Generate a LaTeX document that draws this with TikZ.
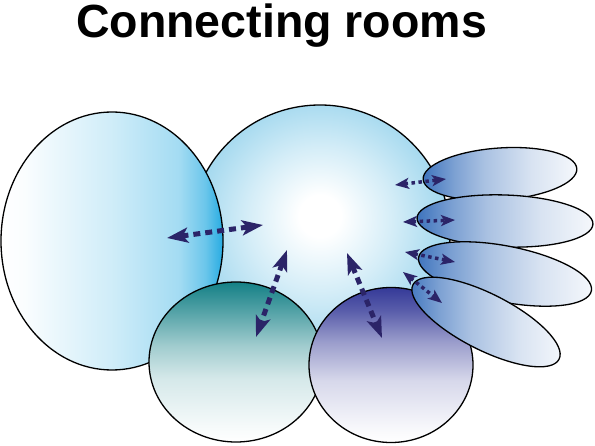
\documentclass[tikz,border=0pt]{standalone}
\usepackage{fontspec}
\setmainfont{Liberation Sans}
\usetikzlibrary{shapes.geometric,arrows.meta}
\definecolor{arrowc}{HTML}{2B2468}
\definecolor{cyanR}{HTML}{1BA7E0}
\definecolor{hubE}{HTML}{A0D7EE}
\definecolor{tealT}{HTML}{148086}
\definecolor{indT}{HTML}{353A98}
\definecolor{wingL}{HTML}{3D73BD}
\pgfdeclarehorizontalshading{westshade}{100bp}{color(0bp)=(white); color(25bp)=(white); color(30bp)=(cyanR!2); color(50bp)=(cyanR!21); color(65bp)=(cyanR!40); color(71bp)=(cyanR!65); color(75bp)=(cyanR!95); color(100bp)=(cyanR!95)}
\pgfdeclareverticalshading{tealshade}{100bp}{color(0bp)=(white); color(25bp)=(white); color(30bp)=(tealT!4); color(45bp)=(tealT!18); color(55bp)=(tealT!40); color(67.5bp)=(tealT!78); color(75bp)=(tealT); color(100bp)=(tealT)}
\pgfdeclareverticalshading{indshade}{100bp}{color(0bp)=(white); color(25bp)=(white); color(30bp)=(indT!4); color(45bp)=(indT!20); color(57.5bp)=(indT!50); color(67.5bp)=(indT!82); color(75bp)=(indT); color(100bp)=(indT)}
\pgfdeclarehorizontalshading{wingshade}{100bp}{color(0bp)=(wingL); color(25bp)=(wingL); color(35bp)=(wingL!68); color(45bp)=(wingL!44); color(60bp)=(wingL!20); color(75bp)=(wingL!5); color(100bp)=(wingL!5)}
\pgfdeclareradialshading{hubshade}{\pgfpoint{0bp}{4bp}}{color(0bp)=(white); color(4bp)=(white); color(14bp)=(hubE!45); color(25bp)=(hubE); color(50bp)=(hubE)}
\tikzset{
  room/.style={ellipse, draw=black, line width=1.3pt, inner sep=0pt, outer sep=0pt},
  wing/.style={room, shading=wingshade},
  biglink/.style={line width=5pt, draw=arrowc, dash pattern=on 7pt off 5pt,
    {Stealth[length=21pt,width=15pt,inset=5pt]}-{Stealth[length=21pt,width=15pt,inset=5pt]}},
  smalllink/.style={line width=3.5pt, draw=arrowc, dash pattern=on 3.5pt off 3.5pt,
    {Stealth[length=14pt,width=11pt,inset=3.5pt]}-{Stealth[length=14pt,width=11pt,inset=3.5pt]}}
}
\begin{document}
\begin{tikzpicture}[x=1pt,y=-1pt]
\useasboundingbox (0,0) rectangle (595,446);
\node[anchor=base, font=\bfseries\fontsize{46.5}{50}\selectfont] (title) at (281.5,38) {Connecting rooms};
% rooms
\node[room, minimum width=260pt, minimum height=260pt, shading=hubshade] (hub) at (320,235) {};
\node[room, minimum width=222pt, minimum height=258pt, shading=westshade] (west) at (112,241) {};
\node[room, minimum width=174pt, minimum height=160pt, shading=tealshade] (sw) at (236,362) {};
\node[room, minimum width=164pt, minimum height=155pt, shading=indshade] (s) at (391,365) {};
\node[wing, minimum width=154pt, minimum height=52pt, rotate=4] (e1) at (500,174) {};
\node[wing, minimum width=176pt, minimum height=52pt, rotate=-2] (e2) at (505,221) {};
\node[wing, minimum width=176pt, minimum height=56pt, rotate=-11] (e3) at (505,274) {};
\node[wing, minimum width=164pt, minimum height=56pt, rotate=-27] (e4) at (486,322) {};
% arrow ends
\coordinate (a1) at (167,238); \coordinate (b1) at (263,225);
\coordinate (a2) at (287,250); \coordinate (b2) at (256,337);
\coordinate (a3) at (347,253); \coordinate (b3) at (382,338);
\coordinate (a4) at (395,185); \coordinate (b4) at (446,179);
\coordinate (a5) at (403,222); \coordinate (b5) at (455,220);
\coordinate (a6) at (405,252); \coordinate (b6) at (455,262);
\coordinate (a7) at (403,272); \coordinate (b7) at (442,303);
\foreach \i in {1,2,3} { \draw[biglink] (a\i) -- (b\i); }
\foreach \i in {4,...,7} { \draw[smalllink] (a\i) -- (b\i); }
\end{tikzpicture}
\end{document}
